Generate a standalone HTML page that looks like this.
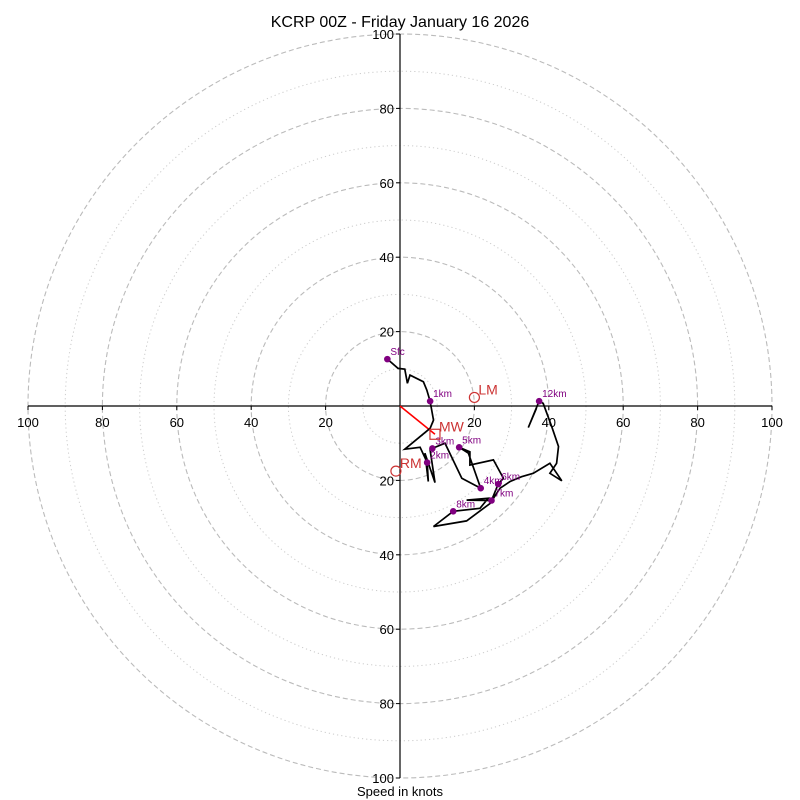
<!DOCTYPE html>
<html><head><meta charset="utf-8"><style>
html,body{margin:0;padding:0;background:#fff}
svg{display:block;font-family:"Liberation Sans","DejaVu Sans",sans-serif}
</style></head><body>
<svg id="chart" width="800" height="800" viewBox="0 0 800 800">
<text x="400" y="27" text-anchor="middle" font-size="16">KCRP 00Z - Friday January 16 2026</text>
<g id="rings"></g>
<g id="axes"></g>
<g id="trace"></g>
<text x="400" y="796" text-anchor="middle" font-size="13">Speed in knots</text>
</svg>
<script>
const ringValues=[10,20,30,40,50,60,70,80,90,100];
const tickValues=[20,40,60,80,100];
const traceU=[-3.4,-0.5,1.3,2.0,2.7,6.3,7.2,8.1,9.0,8.1,1.3,5.4,7.3,7.6,6.7,9.4,8.1,8.7,12.1,16.6,21.7,18.4,15.9,18.8,18.8,25.1,27.8,26.4,24.6,17.9,23.7,21.5,14.3,9.0,17.9,24.2,26.9,29.6,32.7,35.8,40.3,43.5,40.3,42.1,42.6,40.8,38.5,37.4,34.5,36.7];
const traceV=[12.6,10.1,9.9,6.1,8.3,6.5,4.3,1.3,-3.8,-6.0,-11.6,-11.1,-15.2,-20.3,-12.7,-20.6,-11.8,-11.4,-10.0,-19.4,-22.1,-12.7,-11.1,-12.3,-15.9,-14.5,-19.4,-21.0,-25.4,-25.3,-24.8,-27.5,-28.3,-32.4,-30.9,-26.2,-22.1,-20.3,-19.0,-18.1,-15.4,-20.1,-18.1,-15.4,-10.9,-5.6,0.7,1.3,-5.8,-0.6];
const heightLabels=["Sfc","1km","2km","3km","4km","5km","6km","7km","8km","12km"];
const heightU=[-3.4,8.1,7.3,8.7,21.7,15.9,26.4,24.6,14.3,37.4];
const heightV=[12.6,1.3,-15.2,-11.4,-22.1,-11.1,-21.0,-25.4,-28.3,1.3];
const motionLabels=["LM","RM","MW"];
const motionU=[20.0,-1.1,9.4];
const motionV=[2.3,-17.5,-7.6];

const cx=400,cy=406,k=3.72;
const X=u=>cx+u*k, Y=v=>cy-v*k;
const NS='http://www.w3.org/2000/svg';
function mk(tag,attrs,parent){const e=document.createElementNS(NS,tag);for(const a in attrs)e.setAttribute(a,attrs[a]);parent.appendChild(e);return e;}
const rings=document.getElementById('rings'),axes=document.getElementById('axes'),trace=document.getElementById('trace');
ringValues.forEach(r=>{
  const major=r%20===0;
  const c=mk('circle',{cx:cx,cy:cy,r:r*k,fill:'none',stroke:major?'#bbb':'#ccc','stroke-width':major?1.1:1,'stroke-dasharray':major?'5,3':'1.2,3'},rings);
  
  
});
const ha=mk('line',{x1:X(-100),y1:cy,x2:X(100),y2:cy,stroke:'#000','stroke-width':1.2},axes);


const va=mk('line',{x1:cx,y1:Y(100),x2:cx,y2:Y(-100),stroke:'#000','stroke-width':1.2},axes);


tickValues.forEach(t=>{
  [t,-t].forEach(s=>{
    mk('line',{x1:X(s),y1:cy,x2:X(s),y2:cy+4,stroke:'#000'},axes);
    const tx=mk('text',{x:X(s),y:cy+21,'text-anchor':'middle','font-size':13},axes);
    tx.textContent=t;
    
    
    mk('line',{x1:cx-4,y1:Y(s),x2:cx,y2:Y(s),stroke:'#000'},axes);
    const ty=mk('text',{x:cx-6,y:Y(s)+5,'text-anchor':'end','font-size':13},axes);
    ty.textContent=t;
    
    
  });
});
const mwl=mk('line',{x1:X(0),y1:Y(0),x2:X(motionU[2]),y2:Y(motionV[2]),stroke:'#f00','stroke-width':1.6},trace);


const pts=traceU.map((u,i)=>X(u).toFixed(1)+','+Y(traceV[i]).toFixed(1)).join(' ');
const pl=mk('polyline',{points:pts,fill:'none',stroke:'#000','stroke-width':1.7,'stroke-linejoin':'miter'},trace);


heightLabels.forEach((l,i)=>{
  const d=mk('circle',{cx:X(heightU[i]),cy:Y(heightV[i]),r:3.3,fill:'#800080'},trace);
  
  
  const t=mk('text',{x:X(heightU[i])+3,y:Y(heightV[i])-4,'font-size':10,fill:'#800080'},trace);
  t.textContent=l;
  
  
});
motionLabels.forEach((l,i)=>{
  const x=X(motionU[i]),y=Y(motionV[i]);
  let m;
  if(l==='MW') m=mk('rect',{x:x-5,y:y-5,width:10,height:10,fill:'none',stroke:'#c33','stroke-width':1.2},trace);
  else m=mk('circle',{cx:x,cy:y,r:5,fill:'none',stroke:'#c33','stroke-width':1.2},trace);
  
  
  const t=mk('text',{x:x+4,y:y-3,'font-size':14,fill:'#c33'},trace);
  t.textContent=l;
  
  
});
</script>
</body></html>
